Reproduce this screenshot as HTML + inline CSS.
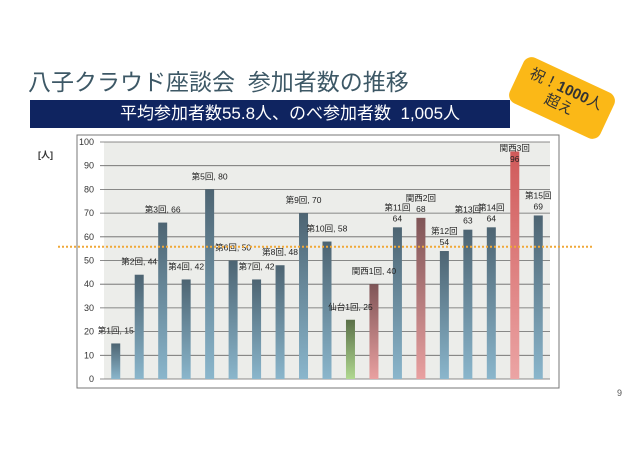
<!DOCTYPE html>
<html><head><meta charset="utf-8"><style>
body{margin:0;width:638px;height:451px;background:#fff;overflow:hidden;position:relative;font-family:"Liberation Sans","Noto Sans CJK JP",sans-serif}
.title{position:absolute;left:28px;top:63px;font-size:23px;color:#3d5866;white-space:nowrap}
.banner{position:absolute;left:30px;top:100px;width:480px;height:28px;background:#0f2460;color:#fff;font-size:17px;line-height:28px;text-align:center;text-indent:40px;white-space:nowrap}
.badge{position:absolute;left:512px;top:73px;width:100px;height:50px;background:#fbb817;border-radius:9px;transform:rotate(25deg);text-align:center;font-size:15px;line-height:17px;color:#333;padding-top:7px;box-sizing:border-box}
.pn{position:absolute;left:617px;top:388px;font-size:9px;color:#555}
</style></head><body>
<div class="title">八子クラウド座談会&nbsp;&nbsp;参加者数の推移</div>
<div class="banner">平均参加者数55.8人、のべ参加者数&nbsp;&nbsp;1,005人</div>
<div class="badge">祝！<b>1000</b>人<br>超え</div>
<div class="pn">9</div>
<svg id="c" width="638" height="451" style="position:absolute;left:0;top:0">
<defs>
<linearGradient id="gb" x1="0" y1="0" x2="0" y2="1"><stop offset="0" stop-color="#4d6472"/><stop offset="1" stop-color="#8ab6cc"/></linearGradient>
<linearGradient id="gr" x1="0" y1="0" x2="0" y2="1"><stop offset="0" stop-color="#7f5557"/><stop offset="1" stop-color="#e9a0a0"/></linearGradient>
<linearGradient id="grr" x1="0" y1="0" x2="0" y2="1"><stop offset="0" stop-color="#d05a5a"/><stop offset="1" stop-color="#eba4a4"/></linearGradient>
<linearGradient id="gg" x1="0" y1="0" x2="0" y2="1"><stop offset="0" stop-color="#5a7048"/><stop offset="1" stop-color="#b0d890"/></linearGradient>
</defs>
</svg>
<script>
const categories=["第1回","第2回","第3回","第4回","第5回","第6回","第7回","第8回","第9回","第10回","仙台1回","関西1回","第11回","関西2回","第12回","第13回","第14回","関西3回","第15回"];
const values=[15,44,66,42,80,50,42,48,70,58,25,40,64,68,54,63,64,96,69];
const kinds=["b","b","b","b","b","b","b","b","b","b","g","r","b","r","b","b","b","rr","b"];
const yTicks=[0,10,20,30,40,50,60,70,80,90,100];
const average=[55.8];
const svg=document.getElementById('c');const NS='http://www.w3.org/2000/svg';
const L=104,R=550,T=142,B=379;
const y=v=>B-(v/100)*(B-T);
const step=(R-L)/categories.length;
const x=i=>L+step*(i+0.5);
function mk(t,a){const e=document.createElementNS(NS,t);for(const k in a)e.setAttribute(k,a[k]);svg.appendChild(e);return e;}
let box=mk('rect',{x:77,y:135,width:482,height:253,fill:'#fff',stroke:'#777','stroke-width':1});


let pa=mk('rect',{x:L,y:T,width:R-L,height:B-T,fill:'#ecedea'});


let u=mk('text',{x:38,y:158,'font-size':9,'font-weight':'bold',fill:'#333'});u.textContent='[人]';


yTicks.forEach(t=>{
 const g=mk('line',{x1:L-4,x2:R,y1:y(t),y2:y(t),stroke:'#666','stroke-width':0.8});
 
 
 const tx=mk('text',{x:L-10,y:y(t)+3,'font-size':9,'text-anchor':'end',fill:'#333'});tx.textContent=t;
 
 
});
const fills={b:'url(#gb)',r:'url(#gr)',rr:'url(#grr)',g:'url(#gg)'};
values.forEach((v,i)=>{
 const r=mk('rect',{x:x(i)-4.5,y:y(v),width:9,height:B-y(v),fill:fills[kinds[i]]});
 
 
});
const two=new Set([12,13,14,15,16,17,18]);
values.forEach((v,i)=>{
 const cx=x(i);
 if(two.has(i)){
  const top=Math.max(y(v)-17,T+9);
  const a=mk('text',{x:cx,y:top,'font-size':8.5,'text-anchor':'middle',fill:'#222'});a.textContent=categories[i];
  
  
  const b=mk('text',{x:cx,y:top+11,'font-size':8.5,'text-anchor':'middle',fill:'#222'});b.textContent=v;
  
  
 }else{
  const a=mk('text',{x:cx,y:y(v)-10,'font-size':8.5,'text-anchor':'middle',fill:'#222'});a.textContent=categories[i]+', '+v;
  
  
 }
});
const av=mk('line',{x1:58,x2:592,y1:y(average[0]),y2:y(average[0]),stroke:'#f0a838','stroke-width':2,'stroke-dasharray':'2,2'});


</script>
</body></html>
